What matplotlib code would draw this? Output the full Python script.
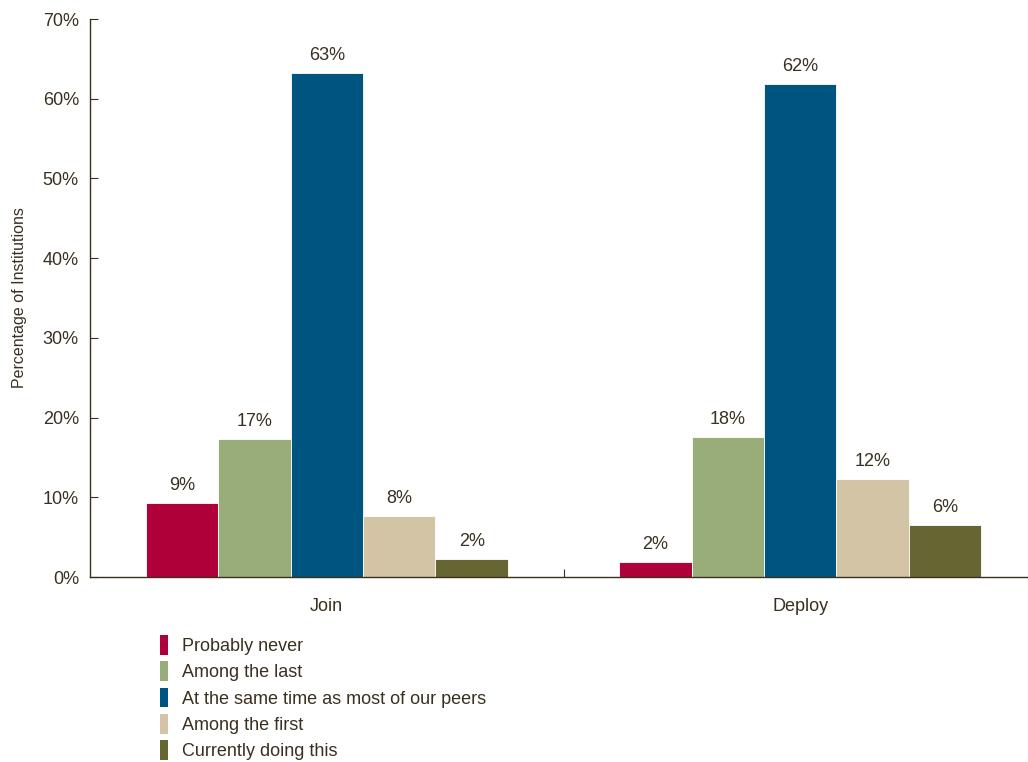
import matplotlib
matplotlib.use("Agg")
import matplotlib.pyplot as plt
from matplotlib.patches import Patch
import numpy as np

plt.rcParams['font.family'] = ['Liberation Sans', 'DejaVu Sans']

groups = ["Join", "Deploy"]
series = ["Probably never", "Among the last", "At the same time as most of our peers",
          "Among the first", "Currently doing this"]
values = {
    "Probably never": [9.3, 1.9],
    "Among the last": [17.3, 17.6],
    "At the same time as most of our peers": [63.2, 61.9],
    "Among the first": [7.7, 12.3],
    "Currently doing this": [2.3, 6.5],
}
colors = ["#B0003A", "#99AD78", "#005580", "#D3C4A6", "#666633"]
yticks = [0, 10, 20, 30, 40, 50, 60, 70]

text_color = "#3A3020"
spine_color = "#3A3020"

fig = plt.figure(figsize=(10.28, 7.62), dpi=100)
ax = fig.add_axes([90 / 1028, 1 - 577 / 762, (1037 - 90) / 1028, (577 - 19) / 762])

x = np.arange(len(groups))
width = 0.153
n = len(series)
for i, (name, col) in enumerate(zip(series, colors)):
    offs = (i - (n - 1) / 2) * width
    vals = values[name]
    bars = ax.bar(x + offs, vals, width=width, color=col, edgecolor="white",
                  linewidth=0.6, label=name, zorder=2)
    for b, v in zip(bars, vals):
        ax.text(b.get_x() + b.get_width() / 2, v + 1.1, f"{v:.0f}%",
                ha="center", va="bottom", fontsize=13, color=text_color)

ax.set_xlim(-0.5, 1.5)
ax.set_ylim(0, 70)
ax.set_yticks(yticks)
ax.set_yticklabels([f"{t}%" for t in yticks], fontsize=13, color=text_color)
ax.tick_params(axis="y", direction="in", length=6, color=spine_color, pad=8)

# group labels sit under the centres, the single tick marks the boundary
ax.set_xticks([0.5])
ax.set_xticklabels([""])
ax.tick_params(axis="x", direction="in", length=6, color=spine_color)
for xi, g in zip(x, groups):
    ax.text(xi, -2.6, g, ha="center", va="top", fontsize=13, color=text_color)

for s in ["top", "right"]:
    ax.spines[s].set_visible(False)
for s in ["left", "bottom"]:
    ax.spines[s].set_color(spine_color)
    ax.spines[s].set_linewidth(1.0)

ax.set_ylabel("Percentage of Institutions", fontsize=11.5, color=text_color)
ax.yaxis.set_label_coords(-0.067, 0.5)

handles = [Patch(facecolor=c, edgecolor="none") for c in colors]
fig.legend(handles, series, loc="upper left", bbox_to_anchor=(153 / 1028, 1 - 628 / 762),
           frameon=False, fontsize=13, handlelength=0.45, handleheight=1.3,
           handletextpad=0.75, labelspacing=0.35, labelcolor=text_color,
           borderaxespad=0)

fig.savefig("out.png", dpi=100)
